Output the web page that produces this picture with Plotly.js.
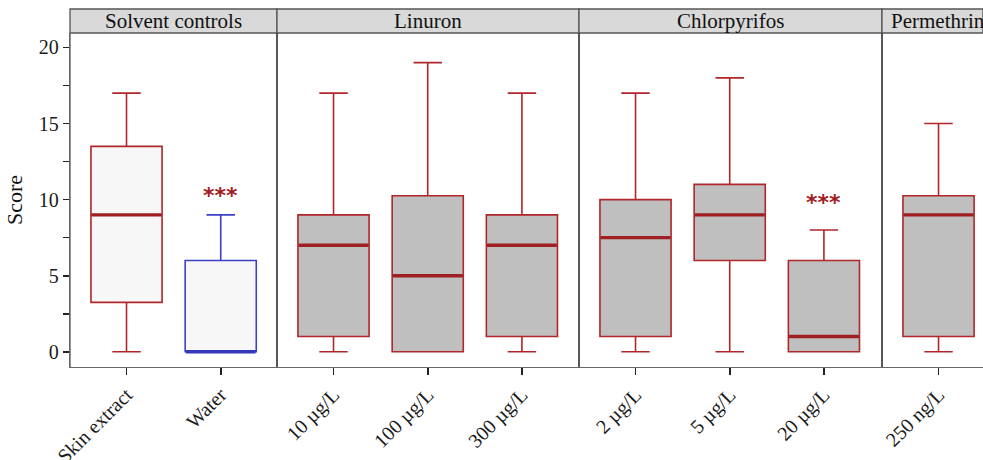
<!DOCTYPE html>
<html>
<head>
<meta charset="utf-8">
<script src="https://cdn.plot.ly/plotly-3.0.1.min.js"></script>
<style>html,body{margin:0;padding:0;background:#fff;}#chart{width:983px;height:460px;}</style>
</head>
<body>
<div id="chart"></div>
<script>
// ---- data ----
const panels = ['Solvent controls', 'Linuron', 'Chlorpyrifos', 'Permethrin'];
const categories = ['Skin extract', 'Water', '10 µg/L', '100 µg/L', '300 µg/L', '2 µg/L', '5 µg/L', '20 µg/L', '250 ng/L'];
const panelOf = [0, 0, 1, 1, 1, 2, 2, 2, 3];
const lowerWhisker = [0, 0, 0, 0, 0, 0, 0, 0, 0];
const q1 = [3.25, 0, 1, 0, 1, 1, 6, 0, 1];
const median = [9, 0, 7, 5, 7, 7.5, 9, 1, 9];
const q3 = [13.5, 6, 9, 10.25, 9, 10, 11, 6, 10.25];
const upperWhisker = [17, 9, 17, 19, 17, 17, 18, 8, 15];
const significance = ['', '***', '', '', '', '', '', '***', ''];
const significanceY = [null, 10.3, null, null, null, null, null, 9.8, null];
const yTickVals = [0, 2.5, 5, 7.5, 10, 12.5, 15, 17.5, 20];
const yTickText = ['0', '', '5', '', '10', '', '15', '', '20'];

// ---- style ----
const RED = '#b0262b', RED_MED = '#a01f22', BLUE = '#3c40c8', BLUE_MED = '#3438b8';
const GRAY_FILL = '#bfbfbf', LIGHT_FILL = '#f7f7f7';
const FONT = 'Liberation Serif';
const W = 983, H = 460, ML = 70, MT = 33, MB = 93;
const plotW = W - ML;
const pxPerCat = 94.2, pad = 0.6;
const panelPx = [[70, 277], [277, 579], [579, 882], [882, 983]];

function styleFor(cat, panel) {
  if (cat === 'Water') return {line: BLUE, med: BLUE_MED, fill: LIGHT_FILL};
  if (panel === 0) return {line: RED, med: RED_MED, fill: LIGHT_FILL};
  return {line: RED, med: RED_MED, fill: GRAY_FILL};
}

const traces = [];
const layout = {
  width: W, height: H,
  margin: {l: ML, r: 0, t: MT, b: MB},
  paper_bgcolor: '#fff', plot_bgcolor: '#fff',
  showlegend: false,
  boxmode: 'overlay',
  font: {family: FONT, color: '#1a1a1a', size: 20},
  yaxis: {
    range: [-1, 20.95], tickvals: yTickVals, ticktext: yTickText,
    ticks: 'outside', ticklen: 6, tickwidth: 1.6, tickcolor: '#222',
    showgrid: false, zeroline: false, showline: true, linecolor: '#666', linewidth: 1.3,
    tickfont: {size: 20, family: FONT, color: '#1a1a1a'},
    title: {text: 'Score', font: {size: 22, family: FONT, color: '#111'}, standoff: 10},
    domain: [0, 1], fixedrange: true
  },
  shapes: [], annotations: []
};

panels.forEach((p, pi) => {
  const axKey = pi === 0 ? 'xaxis' : 'xaxis' + (pi + 1);
  const xRef = pi === 0 ? 'x' : 'x' + (pi + 1);
  const cats = categories.filter((c, i) => panelOf[i] === pi);
  const d0 = (panelPx[pi][0] - ML) / plotW, d1 = (panelPx[pi][1] - ML) / plotW;
  const nUnits = (panelPx[pi][1] - panelPx[pi][0]) / pxPerCat;
  layout[axKey] = {
    domain: [d0, d1], anchor: 'y', type: 'category',
    categoryorder: 'array', categoryarray: cats,
    range: [-pad, -pad + nUnits],
    ticks: 'outside', ticklen: 7, tickwidth: 1.6, tickcolor: '#222',
    tickangle: -45, tickfont: {size: 20, family: FONT, color: '#1a1a1a'},
    showgrid: false, zeroline: false, showline: true, linecolor: '#666', linewidth: 1.3,
    fixedrange: true
  };
  layout.shapes.push({type: 'line', xref: xRef + ' domain', yref: 'paper', x0: 0, x1: 0, y0: 0, y1: 1,
    line: {color: pi === 0 ? '#666' : '#111', width: 1.4}, layer: 'above'});
  const stripTop = 1 + 24 / (H - MT - MB);
  layout.shapes.push({type: 'rect', xref: xRef + ' domain', yref: 'paper', x0: 0, x1: 1, y0: 1, y1: stripTop,
    fillcolor: '#d9d9d9', line: {color: '#555', width: 1.3}, layer: 'above'});
  const clipped = pi === panels.length - 1;
  layout.annotations.push({xref: xRef + ' domain', yref: 'paper', x: clipped ? 0 : 0.5, xshift: clipped ? 7 : 0,
    y: (1 + stripTop) / 2,
    text: p, showarrow: false, xanchor: clipped ? 'left' : 'center', yanchor: 'middle',
    font: {size: 21, family: FONT, color: '#111'}});

  categories.forEach((c, i) => {
    if (panelOf[i] !== pi) return;
    const s = styleFor(c, pi);
    traces.push({
      type: 'box', xaxis: xRef, yaxis: 'y', x: [c],
      q1: [q1[i]], median: [median[i]], q3: [q3[i]],
      lowerfence: [lowerWhisker[i]], upperfence: [upperWhisker[i]],
      width: 0.755, whiskerwidth: 0.4, boxpoints: false,
      fillcolor: s.fill, line: {color: s.line, width: 1.6}, hoverinfo: 'skip'
    });
    traces.push({
      type: 'box', xaxis: xRef, yaxis: 'y', x: [c],
      q1: [median[i]], median: [median[i]], q3: [median[i]],
      lowerfence: [median[i]], upperfence: [median[i]],
      width: 0.74, whiskerwidth: 0, boxpoints: false,
      fillcolor: 'rgba(0,0,0,0)', line: {color: s.med, width: 3.4}, hoverinfo: 'skip'
    });
    if (significance[i]) {
      layout.annotations.push({xref: xRef, yref: 'y', x: c, y: significanceY[i],
        text: '<b>' + significance[i] + '</b>', showarrow: false, xanchor: 'center', yanchor: 'middle',
        font: {size: 22, family: 'DejaVu Sans', color: '#a31c1f'}});
    }
  });
});

Plotly.newPlot('chart', traces, layout, {staticPlot: true, displayModeBar: false});
</script>
</body>
</html>
